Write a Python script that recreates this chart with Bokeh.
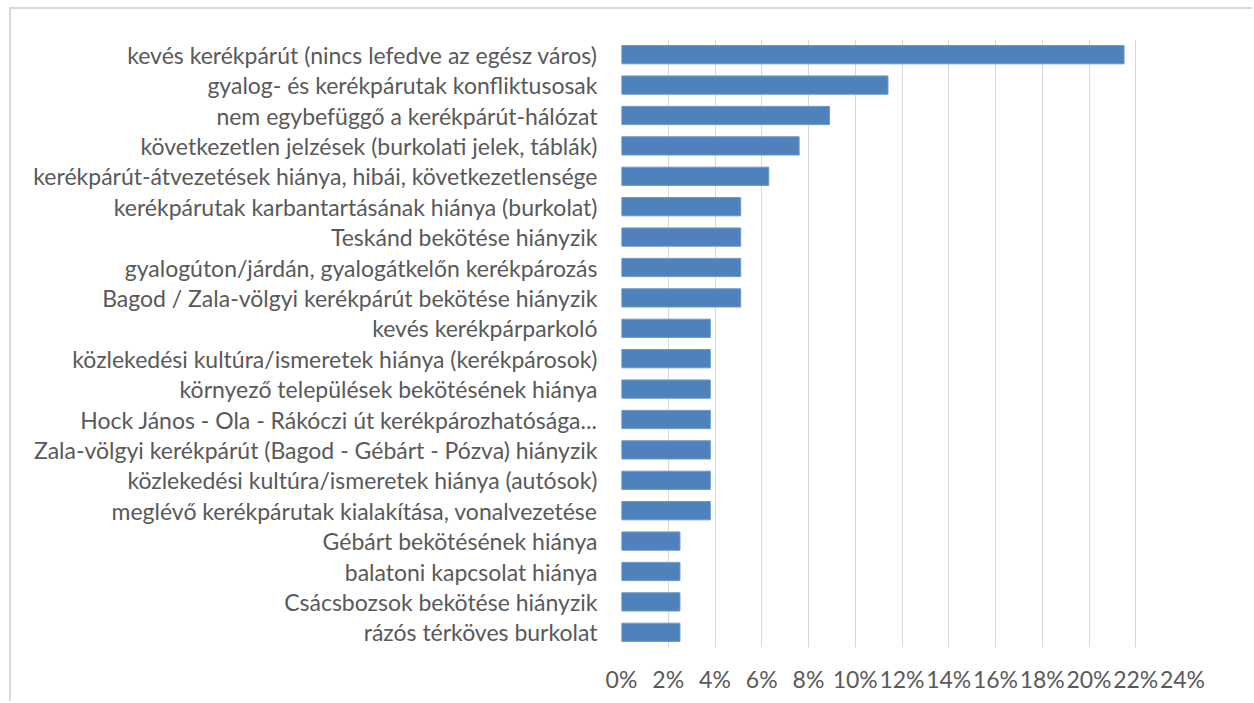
from bokeh.plotting import figure
from bokeh.models import FactorRange, FixedTicker, PrintfTickFormatter
from bokeh.embed import file_html
from bokeh.resources import INLINE

categories = [
    "kevés kerékpárút (nincs lefedve az egész város)",
    "gyalog- és kerékpárutak konfliktusosak",
    "nem egybefüggő a kerékpárút-hálózat",
    "következetlen jelzések (burkolati jelek, táblák)",
    "kerékpárút-átvezetések hiánya, hibái, következetlensége",
    "kerékpárutak karbantartásának hiánya (burkolat)",
    "Teskánd bekötése hiányzik",
    "gyalogúton/járdán, gyalogátkelőn kerékpározás",
    "Bagod / Zala-völgyi kerékpárút bekötése hiányzik",
    "kevés kerékpárparkoló",
    "közlekedési kultúra/ismeretek hiánya (kerékpárosok)",
    "környező települések bekötésének hiánya",
    "Hock János - Ola - Rákóczi út kerékpározhatósága...",
    "Zala-völgyi kerékpárút (Bagod - Gébárt - Pózva) hiányzik",
    "közlekedési kultúra/ismeretek hiánya (autósok)",
    "meglévő kerékpárutak kialakítása, vonalvezetése",
    "Gébárt bekötésének hiánya",
    "balatoni kapcsolat hiánya",
    "Csácsbozsok bekötése hiányzik",
    "rázós térköves burkolat",
]
values = [21.5, 11.4, 8.9, 7.6, 6.3, 5.1, 5.1, 5.1, 5.1, 3.8,
          3.8, 3.8, 3.8, 3.8, 3.8, 3.8, 2.5, 2.5, 2.5, 2.5]
x_ticks = [0, 2, 4, 6, 8, 10, 12, 14, 16, 18, 20, 22, 24]

FONT = "Lato"
TXT = "#595959"

p = figure(
    width=1243, height=694,
    y_range=FactorRange(factors=list(reversed(categories))),
    x_range=(0, 24),
    output_backend="svg", toolbar_location=None,
    min_border_left=610, min_border_right=72,
    min_border_top=30, min_border_bottom=56,
)
p.styles = {"margin-left": "9px", "margin-top": "7px",
            "border-left": "2px solid #d9d9d9", "border-top": "2px solid #d9d9d9"}

p.hbar(y=categories, right=values, left=0, height=0.6,
       fill_color="#4f81bd", line_color="#6d97cc", line_width=1)

p.outline_line_color = None
p.xgrid.grid_line_color = "#d9d9d9"
p.xgrid.grid_line_width = 1
p.ygrid.grid_line_color = None

p.xaxis.ticker = FixedTicker(ticks=x_ticks)
p.xaxis.formatter = PrintfTickFormatter(format="%d%%")
for ax in (p.xaxis[0], p.yaxis[0]):
    ax.axis_line_color = None
    ax.major_tick_line_color = None
    ax.minor_tick_line_color = None
    ax.major_label_text_font = FONT
    ax.major_label_text_font_size = "23px"
    ax.major_label_text_color = TXT
p.xaxis.major_label_standoff = 11
p.yaxis.major_label_standoff = 18

open("out.html", "w").write(file_html(p, INLINE))
